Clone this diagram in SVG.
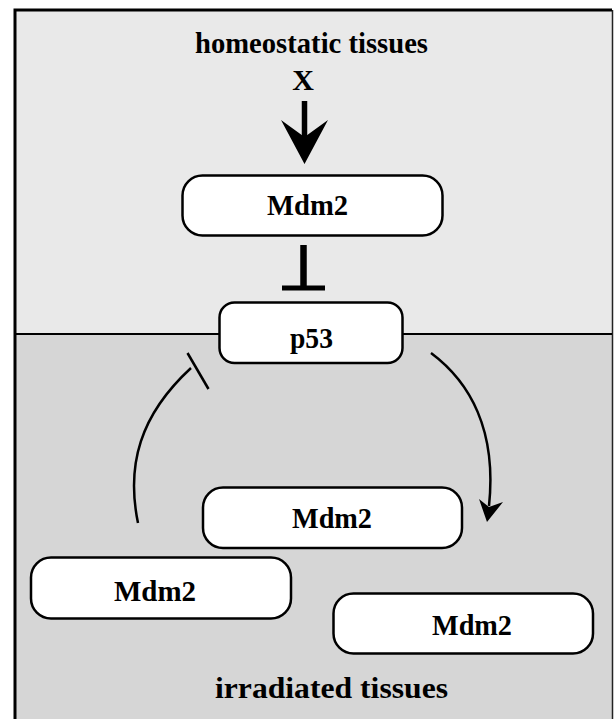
<svg xmlns="http://www.w3.org/2000/svg" width="614" height="719" viewBox="0 0 614 719">
<style>
.box{fill:#fff;stroke:#000;stroke-width:2.5}
.t{font-family:"Liberation Serif","Times New Roman",serif;font-weight:bold;font-size:30px;text-anchor:middle;fill:#000}
.arc{fill:none;stroke:#000;stroke-width:2.5}
</style>
<rect x="0" y="0" width="614" height="719" fill="#fff"/>
<g id="regions">
<rect x="15" y="10" width="597" height="324" fill="#e9e9e9"/>
<rect x="15" y="334" width="597" height="390" fill="#d6d6d6"/>
<line x1="612.5" y1="10" x2="612.5" y2="730" stroke="#222" stroke-width="1.5"/>
<path d="M15,730 V10 H612" fill="none" stroke="#000" stroke-width="3"/>
<line x1="15" y1="334" x2="612" y2="334" stroke="#000" stroke-width="2"/>
<text class="t" x="311.5" y="52.5" textLength="233" lengthAdjust="spacingAndGlyphs">homeostatic tissues</text>
<text class="t" x="331.5" y="698" textLength="233" lengthAdjust="spacingAndGlyphs">irradiated tissues</text>
</g>
<g id="connectors">
<text class="t" x="303" y="90">X</text>
<line x1="304.5" y1="101" x2="304.5" y2="140" stroke="#000" stroke-width="5.5"/>
<polygon points="281,120 304.5,137 328,120 304.5,164" fill="#000"/>
<line x1="303.5" y1="245" x2="303.5" y2="288" stroke="#000" stroke-width="6.5"/>
<line x1="282" y1="288" x2="325" y2="288" stroke="#000" stroke-width="5"/>
<path class="arc" d="M138,523 C126,465 140,415 191,368"/>
<line x1="187.5" y1="353" x2="208.5" y2="389" stroke="#000" stroke-width="2.5"/>
<path class="arc" d="M431,353 C470,382 497,430 489,506"/>
<polygon points="479,499 489,507 503,502 487,522" fill="#000"/>
</g>
<g id="mdm2-top">
<rect class="box" x="182.5" y="175.5" width="260" height="60" rx="20"/>
<text class="t" x="307.5" y="215" textLength="81" lengthAdjust="spacingAndGlyphs">Mdm2</text>
</g>
<g id="p53">
<rect class="box" x="219.5" y="302.5" width="183" height="60.5" rx="15"/>
<text class="t" x="311.5" y="348" textLength="43" lengthAdjust="spacingAndGlyphs">p53</text>
</g>
<g id="mdm2-a">
<rect class="box" x="203" y="487.5" width="259" height="60.5" rx="20"/>
<text class="t" x="332" y="528" textLength="80" lengthAdjust="spacingAndGlyphs">Mdm2</text>
</g>
<g id="mdm2-b">
<rect class="box" x="31" y="557.5" width="260" height="61" rx="20"/>
<text class="t" x="155" y="601" textLength="82" lengthAdjust="spacingAndGlyphs">Mdm2</text>
</g>
<g id="mdm2-c">
<rect class="box" x="333.5" y="593.5" width="259.5" height="60" rx="20"/>
<text class="t" x="472" y="635" textLength="80" lengthAdjust="spacingAndGlyphs">Mdm2</text>
</g>
</svg>
